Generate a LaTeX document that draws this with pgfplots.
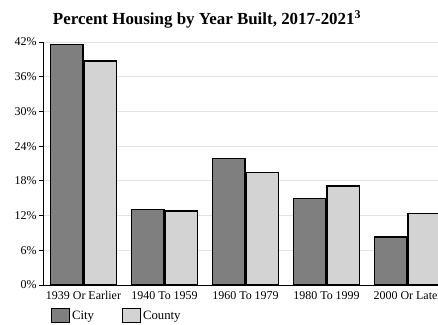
\documentclass[border=0pt]{standalone}
\usepackage{pgfplots}
\pgfplotsset{compat=1.18}
\usepackage{fontspec}
\setmainfont{Liberation Serif}
\definecolor{citygray}{HTML}{7F7F7F}
\definecolor{countygray}{HTML}{D3D3D3}
\definecolor{gridgray}{HTML}{E3E3E3}
\begin{document}
\begin{tikzpicture}
\begin{axis}[
  scale only axis,
  width=405bp, height=243bp,
  xmin=-0.5, xmax=4.5,
  ymin=0, ymax=42,
  ybar=1bp,
  bar width=32.5bp,
  axis x line=bottom, axis y line=left,
  axis line style={-, black, line width=0.8bp},
  xtick={0,1,2,3,4},
  xticklabels={1939 Or Earlier,1940 To 1959,1960 To 1979,1980 To 1999,2000 Or Later},
  major x tick style={draw=none},
  extra x ticks={0.5,1.5,2.5,3.5},
  extra x tick labels={},
  extra x tick style={major tick length=4bp, tick align=outside, tick style={black, line width=0.8bp}, grid=none},
  ytick={0,6,...,42},
  yticklabels={0\%,6\%,12\%,18\%,24\%,30\%,36\%,42\%},
  ytick style={black, line width=0.8bp},
  tick align=outside,
  major tick length=4bp,
  ymajorgrids,
  grid style={gridgray, line width=1bp},
  tick label style={font=\fontsize{12}{13}\selectfont},
  yticklabel style={xshift=1bp},
  xticklabel style={yshift=1bp},
  /pgf/number format/assume math mode=true,
  legend style={at={(rel axis cs:0.017,0)}, anchor=north west, yshift=-21bp, xshift=-2bp, draw=none, fill=none,
    legend columns=2, font=\fontsize{12.8}{14}\selectfont,
    /tikz/every even column/.append style={column sep=26bp}},
  legend image code/.code={\draw[#1, line width=1bp] (0bp,-7bp) rectangle (18bp,7bp);},
  clip=false,
]
\addplot[fill=citygray, draw=black, line width=1.2bp] coordinates {(0,41.6) (1,13.1) (2,21.9) (3,14.9) (4,8.3)};
\addplot[fill=countygray, draw=black, line width=1.2bp] coordinates {(0,38.7) (1,12.8) (2,19.5) (3,17.1) (4,12.4)};
\legend{City,County}
\coordinate (O) at (rel axis cs:0,0);
\node[font=\bfseries\fontsize{17}{19}\selectfont, anchor=base] at ([shift={(164bp,260bp)}]rel axis cs:0,0) {Percent Housing by Year Built, 2017-2021$^{\mathbf{3}}$};
\end{axis}
\pgfresetboundingbox
\useasboundingbox ([shift={(-43bp,-40bp)}]O) rectangle ([shift={(395bp,285bp)}]O);
\end{tikzpicture}
\end{document}
